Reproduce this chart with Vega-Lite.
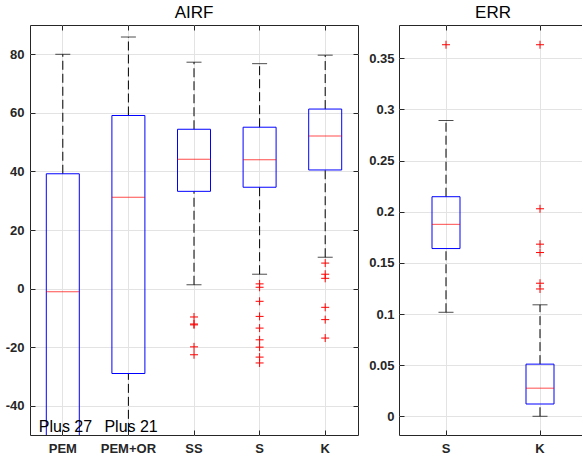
{
  "$schema": "https://vega.github.io/schema/vega-lite/v6.json",
  "padding": {"left": 4, "top": 3, "right": 0, "bottom": 0},
  "background": "white",
  "spacing": 41,
  "bounds": "flush",
  "config": {
    "font": "Liberation Sans",
    "view": {"stroke": "#262626", "strokeWidth": 1},
    "title": {"fontSize": 17, "fontWeight": "normal", "color": "#000000", "font": "Liberation Sans", "anchor": "middle", "baseline": "alphabetic", "offset": 3},
    "axis": {
      "labelFont": "Liberation Sans",
      "labelFontSize": 13,
      "labelFontWeight": "bold",
      "labelColor": "#262626",
      "grid": true,
      "gridColor": "#e3e3e3",
      "gridWidth": 1,
      "domain": false,
      "ticks": true,
      "tickSize": -5,
      "tickColor": "#262626",
      "title": null
    }
  },
  "datasets": {
    "airf": [
      {"cat": "PEM", "wl": -90, "q1": -70, "med": -1.1, "q3": 39.2, "wh": 80.0},
      {"cat": "PEM+OR", "wl": -80, "q1": -29.0, "med": 31.2, "q3": 59.1, "wh": 85.9},
      {"cat": "SS", "wl": 1.3, "q1": 33.2, "med": 44.2, "q3": 54.4, "wh": 77.3},
      {"cat": "S", "wl": 4.9, "q1": 34.6, "med": 44.0, "q3": 55.1, "wh": 76.8},
      {"cat": "K", "wl": 10.7, "q1": 40.5, "med": 52.1, "q3": 61.3, "wh": 79.7}
    ],
    "airfOut": [
      {"cat": "SS", "v": -9.7}, {"cat": "SS", "v": -12.1}, {"cat": "SS", "v": -12.4}, {"cat": "SS", "v": -19.9}, {"cat": "SS", "v": -22.6},
      {"cat": "S", "v": 1.6}, {"cat": "S", "v": 0.45}, {"cat": "S", "v": -4.35}, {"cat": "S", "v": -9.5}, {"cat": "S", "v": -13.5},
      {"cat": "S", "v": -17.5}, {"cat": "S", "v": -20.0}, {"cat": "S", "v": -23.4}, {"cat": "S", "v": -25.4},
      {"cat": "K", "v": 8.7}, {"cat": "K", "v": 4.9}, {"cat": "K", "v": 3.5}, {"cat": "K", "v": -6.4}, {"cat": "K", "v": -10.6}, {"cat": "K", "v": -16.9}
    ],
    "notes": [
      {"cat": "PEM", "label": "Plus 27", "v": -48.9},
      {"cat": "PEM+OR", "label": "Plus 21", "v": -48.9}
    ],
    "err": [
      {"cat": "S", "wl": 0.1017, "q1": 0.164, "med": 0.1877, "q3": 0.2147, "wh": 0.2892},
      {"cat": "K", "wl": 0.0, "q1": 0.012, "med": 0.0275, "q3": 0.051, "wh": 0.109}
    ],
    "errOut": [
      {"cat": "S", "v": 0.3633},
      {"cat": "K", "v": 0.3633}, {"cat": "K", "v": 0.2029}, {"cat": "K", "v": 0.1683}, {"cat": "K", "v": 0.1601}, {"cat": "K", "v": 0.1301}, {"cat": "K", "v": 0.1245}
    ]
  },
  "hconcat": [
    {
      "width": 328,
      "height": 410,
      "title": "AIRF",
      "resolve": {"axis": {"x": "independent", "y": "independent"}},
      "layer": [
        {
          "data": {"name": "airf"},
          "mark": {"type": "rule", "color": "#000000", "strokeDash": [9, 4], "strokeWidth": 1, "clip": true},
          "encoding": {
            "x": {"field": "cat", "type": "nominal", "scale": {"domain": ["PEM", "PEM+OR", "SS", "S", "K"], "paddingInner": 0, "paddingOuter": 0}, "axis": {"orient": "bottom", "labelAngle": 0, "bandPosition": 0.5, "labelPadding": 12}},
            "y": {"field": "q3", "type": "quantitative", "scale": {"domain": [-50, 90], "nice": false, "zero": false}, "axis": {"orient": "left", "values": [-40, -20, 0, 20, 40, 60, 80], "labelPadding": 11, "labelExpr": "replace(datum.label, '\u2212', '-')"}},
            "y2": {"field": "wh"}
          }
        },
        {
          "data": {"name": "airf"},
          "mark": {"type": "point", "opacity": 0},
          "encoding": {
            "x": {"field": "cat", "type": "nominal", "axis": {"orient": "top", "labels": false, "grid": false, "bandPosition": 0.5}},
            "y": {"field": "q3", "type": "quantitative", "axis": {"orient": "right", "labels": false, "grid": false, "values": [-40, -20, 0, 20, 40, 60, 80]}}
          }
        },
        {
          "data": {"name": "airf"},
          "mark": {"type": "rule", "color": "#000000", "strokeDash": [9, 4], "strokeWidth": 1, "clip": true},
          "encoding": {
            "x": {"field": "cat", "type": "nominal", "axis": null},
            "y": {"field": "wl", "type": "quantitative", "axis": null},
            "y2": {"field": "q1"}
          }
        },
        {
          "data": {"name": "airf"},
          "mark": {"type": "tick", "color": "#000000", "size": 15, "thickness": 1, "clip": true},
          "encoding": {"x": {"field": "cat", "type": "nominal", "axis": null}, "y": {"field": "wh", "type": "quantitative", "axis": null}}
        },
        {
          "data": {"name": "airf"},
          "mark": {"type": "tick", "color": "#000000", "size": 15, "thickness": 1, "clip": true},
          "encoding": {"x": {"field": "cat", "type": "nominal", "axis": null}, "y": {"field": "wl", "type": "quantitative", "axis": null}}
        },
        {
          "data": {"name": "airf"},
          "mark": {"type": "bar", "width": 33, "fill": "#ffffff", "fillOpacity": 0, "stroke": "#0000ff", "strokeWidth": 1, "clip": true},
          "encoding": {
            "x": {"field": "cat", "type": "nominal", "axis": null},
            "y": {"field": "q1", "type": "quantitative", "axis": null},
            "y2": {"field": "q3"}
          }
        },
        {
          "data": {"name": "airf"},
          "mark": {"type": "tick", "color": "#ff0000", "size": 33, "thickness": 1, "clip": true},
          "encoding": {"x": {"field": "cat", "type": "nominal", "axis": null}, "y": {"field": "med", "type": "quantitative", "axis": null}}
        },
        {
          "data": {"name": "airfOut"},
          "mark": {"type": "point", "shape": "M-1,0H1M0,-1V1", "filled": false, "color": "#ff0000", "size": 64, "strokeWidth": 1, "opacity": 1, "clip": true},
          "encoding": {"x": {"field": "cat", "type": "nominal", "axis": null}, "y": {"field": "v", "type": "quantitative", "axis": null}}
        },
        {
          "data": {"name": "notes"},
          "mark": {"type": "text", "align": "left", "baseline": "alphabetic", "dx": -24, "fontSize": 16, "font": "Liberation Sans", "color": "#000000"},
          "encoding": {
            "x": {"field": "cat", "type": "nominal", "axis": null},
            "y": {"field": "v", "type": "quantitative", "axis": null},
            "text": {"field": "label"}
          }
        }
      ]
    },
    {
      "width": 188,
      "height": 410,
      "title": "ERR",
      "resolve": {"axis": {"x": "independent", "y": "independent"}},
      "layer": [
        {
          "data": {"name": "err"},
          "mark": {"type": "rule", "color": "#000000", "strokeDash": [9, 4], "strokeWidth": 1, "clip": true},
          "encoding": {
            "x": {"field": "cat", "type": "nominal", "scale": {"domain": ["S", "K"], "paddingInner": 0, "paddingOuter": 0}, "axis": {"orient": "bottom", "labelAngle": 0, "bandPosition": 0.5, "labelPadding": 12}},
            "y": {"field": "q3", "type": "quantitative", "scale": {"domain": [-0.0183, 0.3826], "nice": false, "zero": false}, "axis": {"orient": "left", "values": [0, 0.05, 0.1, 0.15, 0.2, 0.25, 0.3, 0.35], "format": ".2~f", "labelPadding": 10}},
            "y2": {"field": "wh"}
          }
        },
        {
          "data": {"name": "err"},
          "mark": {"type": "point", "opacity": 0},
          "encoding": {
            "x": {"field": "cat", "type": "nominal", "axis": {"orient": "top", "labels": false, "grid": false, "bandPosition": 0.5}},
            "y": {"field": "q3", "type": "quantitative", "axis": {"orient": "right", "labels": false, "grid": false, "values": [0, 0.05, 0.1, 0.15, 0.2, 0.25, 0.3, 0.35]}}
          }
        },
        {
          "data": {"name": "err"},
          "mark": {"type": "rule", "color": "#000000", "strokeDash": [9, 4], "strokeWidth": 1, "clip": true},
          "encoding": {
            "x": {"field": "cat", "type": "nominal", "axis": null},
            "y": {"field": "wl", "type": "quantitative", "axis": null},
            "y2": {"field": "q1"}
          }
        },
        {
          "data": {"name": "err"},
          "mark": {"type": "tick", "color": "#000000", "size": 15, "thickness": 1, "clip": true},
          "encoding": {"x": {"field": "cat", "type": "nominal", "axis": null}, "y": {"field": "wh", "type": "quantitative", "axis": null}}
        },
        {
          "data": {"name": "err"},
          "mark": {"type": "tick", "color": "#000000", "size": 15, "thickness": 1, "clip": true},
          "encoding": {"x": {"field": "cat", "type": "nominal", "axis": null}, "y": {"field": "wl", "type": "quantitative", "axis": null}}
        },
        {
          "data": {"name": "err"},
          "mark": {"type": "bar", "width": 28, "fill": "#ffffff", "fillOpacity": 0, "stroke": "#0000ff", "strokeWidth": 1, "clip": true},
          "encoding": {
            "x": {"field": "cat", "type": "nominal", "axis": null},
            "y": {"field": "q1", "type": "quantitative", "axis": null},
            "y2": {"field": "q3"}
          }
        },
        {
          "data": {"name": "err"},
          "mark": {"type": "tick", "color": "#ff0000", "size": 28, "thickness": 1, "clip": true},
          "encoding": {"x": {"field": "cat", "type": "nominal", "axis": null}, "y": {"field": "med", "type": "quantitative", "axis": null}}
        },
        {
          "data": {"name": "errOut"},
          "mark": {"type": "point", "shape": "M-1,0H1M0,-1V1", "filled": false, "color": "#ff0000", "size": 64, "strokeWidth": 1, "opacity": 1, "clip": true},
          "encoding": {"x": {"field": "cat", "type": "nominal", "axis": null}, "y": {"field": "v", "type": "quantitative", "axis": null}}
        }
      ]
    }
  ]
}
